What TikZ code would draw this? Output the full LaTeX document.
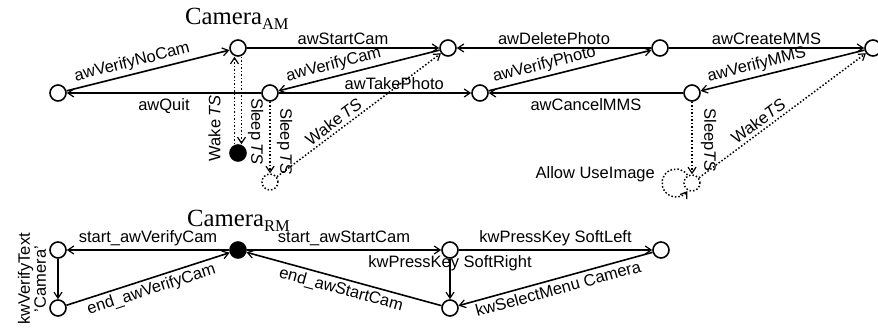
\documentclass[tikz,border=0pt]{standalone}
\usepackage{fontspec}
\setmainfont{Liberation Sans}
\newfontfamily\seriffont{Liberation Serif}
\usetikzlibrary{arrows.meta}
\newcommand{\tsx}{\textit{TS}}
\begin{document}
\begin{tikzpicture}[x=1pt,y=1pt,
  st/.style={circle,draw,line width=1.6pt,minimum size=16pt,inner sep=0pt,fill=white},
  fst/.style={st,fill=black},
  dst/.style={circle,draw,dotted,line width=1.5pt,minimum size=16pt,inner sep=0pt},
  tr/.style={line width=1.6pt,-{Straight Barb[length=6pt,width=8pt,line width=1.2pt]}},
  dtr/.style={line width=1.5pt,dotted,-{Straight Barb[length=6pt,width=8pt,line width=1.2pt]}},
  lb/.style={font=\fontsize{16.5}{17}\selectfont,inner sep=3pt},
  ttl/.style={font=\seriffont\fontsize{24.7}{28}\selectfont,inner sep=0pt}]
\useasboundingbox (0,0) rectangle (878,329);

% ---------- Camera_AM ----------
\node[ttl,anchor=base west] (tAM) at (185,304) {Camera\raisebox{-4.5pt}{\fontsize{16.5}{18}\selectfont AM}};

\node[st] (A1) at (58,236) {};
\node[st] (A2) at (238,281) {};
\node[st] (A3) at (270,236) {};
\node[st] (A4) at (448,281) {};
\node[st] (A5) at (480,236) {};
\node[st] (A6) at (660,281) {};
\node[st] (A7) at (873,281) {};
\node[st] (A8) at (692,236) {};
\node[fst] (K) at (238,176) {};
\node[dst] (D1) at (270,147) {};
\node[dst] (D2) at (692,146) {};
\coordinate (Lc) at (676,146);

\draw[tr] (A1) -- node[lb,sloped,above,pos=0.42] {awVerifyNoCam} (A2);
\draw[tr] (A2) -- node[lb,above] {awStartCam} (A4);
\draw[tr] (A4) -- node[lb,sloped,above,pos=0.64] {awVerifyCam} (A3);
\draw[tr] (A3) -- node[lb,below,inner sep=4.5pt] {awQuit} (A1);
\draw[tr] (A3) -- node[lb,above,pos=0.6] {awTakePhoto} (A5);
\draw[tr] (A6) -- node[lb,above] {awDeletePhoto} (A4);
\draw[tr] (A5) -- node[lb,sloped,above,pos=0.36] {awVerifyPhoto} (A6);
\draw[tr] (A6) -- node[lb,above] {awCreateMMS} (A7);
\draw[tr] (A7) -- node[lb,sloped,above,pos=0.64] {awVerifyMMS} (A8);
\draw[tr] (A8) -- node[lb,below,inner sep=4.5pt] {awCancelMMS} (A5);

\draw[dtr] ([xshift=-3.5pt]K.north) -- node[lb,pos=0.18,rotate=90,anchor=south,inner sep=1pt,outer sep=13pt] {Wake\,\tsx} ([xshift=-3.5pt]A2.south);
\draw[dtr] ([xshift=3.5pt]A2.south) -- node[lb,pos=0.85,rotate=-90,anchor=south,inner sep=1pt,outer sep=5.5pt] {Sleep\,\tsx} ([xshift=3.5pt]K.north);
\draw[dtr] (A3) -- node[lb,pos=0.55,rotate=-90,anchor=south,inner sep=1pt,outer sep=6pt] {Sleep\,\tsx} (D1);
\draw[dtr] (D1) -- node[lb,sloped,above,pos=0.38] {Wake\,\tsx} (A4);
\draw[dtr] (A8) -- node[lb,pos=0.53,rotate=-90,anchor=south,inner sep=1pt,outer sep=8pt] {Sleep\tsx} (D2);
\draw[dtr] (D2) -- node[lb,sloped,above,pos=0.39] {Wake\tsx} (A7);
\draw[dtr] ([shift={(35:14)}]Lc) arc[start angle=35,end angle=325,radius=14];
\node[lb,anchor=south east,inner sep=1pt] (lAU) at ([xshift=-20pt]Lc) {Allow UseImage};

% ---------- Camera_RM ----------
\node[ttl,anchor=base west] (tRM) at (187,102) {Camera\raisebox{-4.5pt}{\fontsize{16.5}{18}\selectfont RM}};

\node[st] (B1) at (58,79) {};
\node[st] (B2) at (58,21) {};
\node[fst] (B3) at (238,79) {};
\node[st] (B4) at (450,79) {};
\node[st] (B5) at (450,21) {};
\node[st] (B6) at (661,79) {};

\draw[tr] (B3) -- node[lb,above] {start\_awVerifyCam} (B1);
\draw[tr] (B1) -- node[lb,midway,rotate=90,anchor=south,align=center,inner sep=1pt,outer sep=11pt,font=\fontsize{16.5}{16}\selectfont] {kwVerifyText\\'Camera'} (B2);
\draw[tr] (B2) -- node[lb,sloped,below] {end\_awVerifyCam} (B3);
\draw[tr] (B3) -- node[lb,above] {start\_awStartCam} (B4);
\draw[tr] (B4) -- node[lb,above] {kwPressKey SoftLeft} (B6);
\draw[tr] (B4) -- node[lb,pos=0.12] {kwPressKey SoftRight} (B5);
\draw[tr] (B6) -- node[lb,sloped,below] {kwSelectMenu Camera} (B5);
\draw[tr] (B5) -- node[lb,sloped,below] {end\_awStartCam} (B3);
\end{tikzpicture}
\end{document}
